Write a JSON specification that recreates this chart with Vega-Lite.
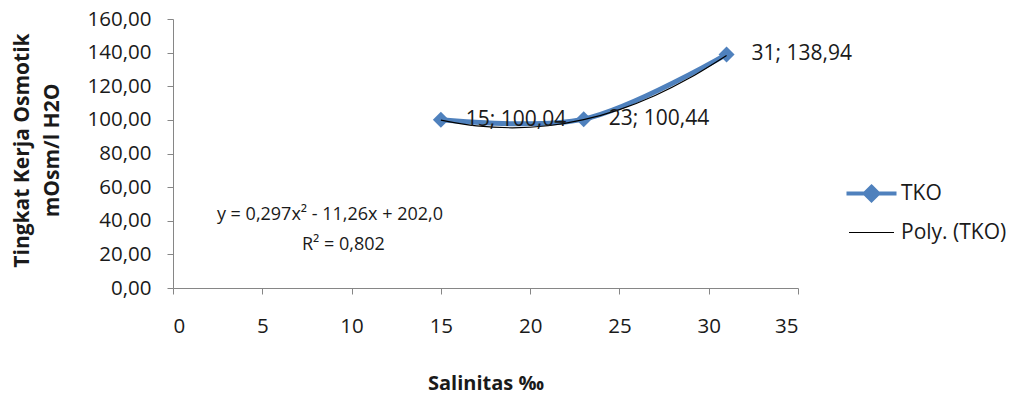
{
  "$schema": "https://vega.github.io/schema/vega-lite/v6.json",
  "width": 625,
  "height": 269,
  "autosize": {"type": "none"},
  "padding": {"left": 173, "top": 19, "right": 216, "bottom": 111},
  "background": "white",
  "config": {
    "view": {"stroke": null},
    "font": "Open Sans",
    "axis": {
      "grid": false,
      "domainColor": "#868686",
      "tickColor": "#868686",
      "tickSize": 6,
      "labelFont": "Open Sans",
      "labelFontSize": 20.5,
      "labelColor": "#1a1a1a",
      "titleFont": "Open Sans",
      "titleFontWeight": "bold",
      "titleFontSize": 20,
      "titleColor": "#1a1a1a"
    }
  },
  "datasets": {
    "tko": [
      {"salinitas": 15, "tko": 100.04},
      {"salinitas": 23, "tko": 100.44},
      {"salinitas": 31, "tko": 138.94}
    ],
    "poly": [
      {"salinitas": 15, "tko": 99.9},
      {"salinitas": 17, "tko": 96.4},
      {"salinitas": 19, "tko": 95.3},
      {"salinitas": 21, "tko": 96.5},
      {"salinitas": 23, "tko": 100.1},
      {"salinitas": 25, "tko": 106.1},
      {"salinitas": 27, "tko": 114.5},
      {"salinitas": 29, "tko": 125.3},
      {"salinitas": 31, "tko": 138.3}
    ],
    "persamaan": [
      {"salinitas": 2.46, "tko": 43.4, "teks": "y = 0,297x² - 11,26x + 202,0"},
      {"salinitas": 7.22, "tko": 25.6, "teks": "R² = 0,802"}
    ]
  },
  "encoding": {
    "x": {
      "field": "salinitas",
      "type": "quantitative",
      "scale": {"domain": [0, 35], "nice": false},
      "axis": {
        "title": "Salinitas ‰",
        "values": [0, 5, 10, 15, 20, 25, 30, 35],
        "labelBaseline": "middle",
        "labelPadding": 32,
        "titleBaseline": "middle",
        "titleY": 95
      }
    },
    "y": {
      "field": "tko",
      "type": "quantitative",
      "scale": {"domain": [0, 160], "nice": false},
      "axis": {
        "title": ["Tingkat Kerja Osmotik", "mOsm/l H2O"],
        "values": [0, 20, 40, 60, 80, 100, 120, 140, 160],
        "labelExpr": "replace(format(datum.value, '.2f'), '.', ',')",
        "labelPadding": 16,
        "titleAngle": -90,
        "titleBaseline": "middle",
        "titleAlign": "center",
        "titleFontSize": 21,
        "titleLineHeight": 30,
        "titleX": -151,
        "titleY": 131
      }
    }
  },
  "layer": [
    {
      "data": {"name": "tko"},
      "mark": {"type": "line", "interpolate": "catmull-rom", "strokeWidth": 5},
      "encoding": {
        "color": {
          "datum": "TKO",
          "type": "nominal",
          "scale": {"domain": ["TKO", "Poly. (TKO)"], "range": ["#4F81BD", "#000000"]},
          "legend": {
            "title": null,
            "orient": "none",
            "legendX": 688,
            "legendY": 164,
            "padding": 0,
            "symbolType": "M-1.667,0H1.667",
            "symbolSize": 900,
            "labelFont": "Open Sans",
            "labelFontSize": 21,
            "labelColor": "#1a1a1a",
            "labelOffset": 19,
            "rowPadding": 12,
            "encode": {
              "symbols": {
                "update": {
                  "shape": {"signal": "datum.value === 'TKO' ? 'M-1.667,0H1.667M0,-0.45L0.45,0L0,0.45L-0.45,0Z' : 'M-1.5,0H1.5'"},
                  "strokeWidth": {"signal": "datum.value === 'TKO' ? 4 : 1"},
                  "stroke": {"signal": "datum.value === 'TKO' ? '#4F81BD' : '#000000'"},
                  "fill": {"signal": "datum.value === 'TKO' ? '#4F81BD' : 'transparent'"}
                }
              }
            }
          }
        }
      }
    },
    {
      "data": {"name": "tko"},
      "mark": {"type": "point", "shape": "diamond", "filled": true, "size": 256, "color": "#4F81BD", "opacity": 1}
    },
    {
      "data": {"name": "poly"},
      "mark": {"type": "line", "interpolate": "monotone", "strokeWidth": 1.2},
      "encoding": {
        "color": {"datum": "Poly. (TKO)", "type": "nominal"}
      }
    },
    {
      "data": {"name": "tko"},
      "transform": [
        {"calculate": "datum.salinitas + '; ' + replace(format(datum.tko, '.2f'), '.', ',')", "as": "label"}
      ],
      "mark": {"type": "text", "align": "left", "baseline": "middle", "dx": 25, "fontSize": 21, "font": "Open Sans", "color": "#1a1a1a"},
      "encoding": {"text": {"field": "label"}}
    },
    {
      "data": {"name": "persamaan"},
      "mark": {"type": "text", "align": "left", "baseline": "middle", "fontSize": 18, "font": "Open Sans", "color": "#1a1a1a"},
      "encoding": {"text": {"field": "teks"}}
    }
  ]
}
